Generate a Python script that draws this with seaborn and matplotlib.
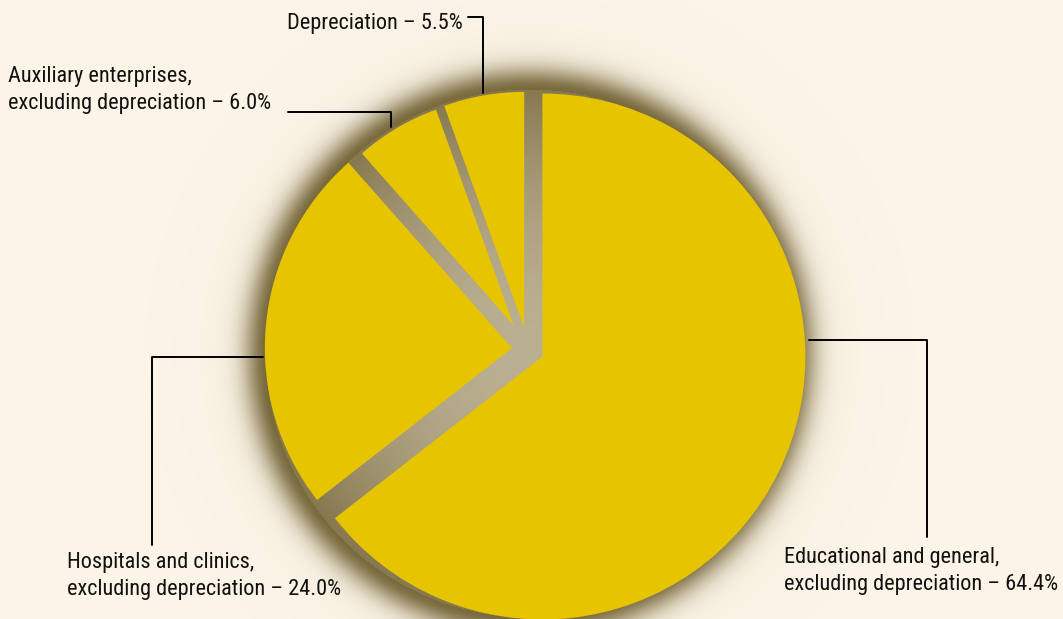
import numpy as np
import matplotlib
matplotlib.use("Agg")
import matplotlib.pyplot as plt
from matplotlib import font_manager
import seaborn as sns

# ---- data ----
categories = [
    "Educational and general,\nexcluding depreciation",
    "Hospitals and clinics,\nexcluding depreciation",
    "Auxiliary enterprises,\nexcluding depreciation",
    "Depreciation",
]
shares = [64.4, 24.0, 6.0, 5.5]

# ---- style ----
sns.set_theme(style="white")


def first_font(cands):
    for c in cands:
        try:
            font_manager.findfont(font_manager.FontProperties(family=c), fallback_to_default=False)
            return c
        except Exception:
            continue
    return "DejaVu Sans"


FONT = first_font(["Liberation Sans Narrow", "Roboto Condensed", "Open Sans Condensed",
                   "Noto Sans Condensed", "Roboto", "Liberation Sans"])
plt.rcParams["font.family"] = [FONT, "DejaVu Sans"]

BG = "#fcf5e7"
PIE = "#e6c400"
SHADOW = np.array([88, 70, 18]) / 255.0

W, H = 1063, 619
fig = plt.figure(figsize=(W / 100, H / 100), dpi=100, facecolor=BG)
ax = fig.add_axes([0, 0, 1, 1])
ax.set_facecolor(BG)

cx, cy = 528.0, H - 349.5
R = 263.0

# ---- soft shadow / glow behind the pie ----
xs = np.arange(W) + 0.5
ys = np.arange(H) + 0.5
X, Y = np.meshgrid(xs, ys)
d = np.hypot(X - (cx + 2), Y - (cy - 4))
Rs = 264.0
alpha = np.where(
    d <= Rs,
    0.40 + 0.32 * (d / Rs) ** 2,
    0.72 * np.exp(-((d - Rs) / 22.0) ** 2) + 0.08 * np.exp(-(d - Rs) / 40.0),
)
alpha = np.clip(alpha, 0, 1)
img = np.zeros((H, W, 4))
img[..., :3] = SHADOW
img[..., 3] = alpha
ax.imshow(img, extent=(0, W, 0, H), origin="lower", zorder=1, interpolation="bilinear")

# ---- pie (explode is in data units = pixels here) ----
wedges, _ = ax.pie(
    shares,
    colors=[PIE] * len(shares),
    startangle=90,
    counterclock=False,
    explode=[16, 16, 28, 22],
    radius=R,
    center=(cx, cy),
    wedgeprops=dict(linewidth=0),
    frame=True,
)
for w, rf in zip(wedges, [1.0, 0.94, 0.872, 0.897]):
    w.set_radius(R * rf)
    w.set_zorder(2)

ax.set_xlim(0, W)
ax.set_ylim(0, H)
ax.set_aspect("equal")
ax.axis("off")

# ---- labels with elbow leader lines (layout in pixel space) ----
def py(y):
    return H - y

lw = 1.4
fs = 16
ls = 1.32
tc = "#111111"
labels = [f"{c} – {s:.1f}%" for c, s in zip(categories, shares)]

# Depreciation
ax.plot([468, 483, 483], [py(17), py(17), py(93)], color="black", lw=lw, zorder=3)
ax.text(463, py(23), labels[3], ha="right", va="center", fontsize=fs, color=tc, zorder=3)

# Auxiliary
ax.plot([288, 391, 391], [py(112), py(112), py(127)], color="black", lw=lw, zorder=3)
ax.text(8, py(90), labels[2], ha="left", va="center", fontsize=fs, color=tc,
        linespacing=ls, zorder=3)

# Hospitals
ax.plot([152, 152, 263], [py(545), py(357), py(357)], color="black", lw=lw, zorder=3)
ax.text(67, py(576), labels[1], ha="left", va="center", fontsize=fs, color=tc,
        linespacing=ls, zorder=3)

# Educational
ax.plot([809, 927, 927], [py(340), py(340), py(537)], color="black", lw=lw, zorder=3)
ax.text(1058, py(571), labels[0], ha="right", va="center", fontsize=fs, color=tc,
        linespacing=ls, multialignment="left", zorder=3)

fig.savefig("out.png", dpi=100, facecolor=BG)
